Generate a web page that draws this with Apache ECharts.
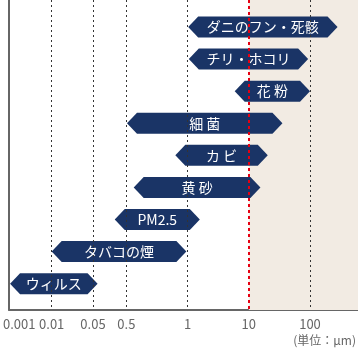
<!DOCTYPE html>
<html>
<head>
<meta charset="UTF-8">
<title>粒子の大きさ</title>
<style>
html, body { margin: 0; padding: 0; background: #fff; }
#main { width: 358px; height: 351px; }
</style>
</head>
<body>
<div id="main"></div>
<script src="https://cdn.jsdelivr.net/npm/echarts@6/dist/echarts.min.js"></script>
<script type="text/javascript">
// 粒子名（上から順）
var names = ['ダニのフン・死骸', 'チリ・ホコリ', '花 粉', '細 菌', 'カ ビ', '黄 砂', 'PM2.5', 'タバコの煙', 'ウィルス'];
// 範囲（1μm を 0 とした桁単位、目盛りの並びに合わせた位置）
var rangeStart = [0.01, 0.02, 0.77, -0.99, -0.2, -0.88, -1.19, -2.22, -2.9];
var rangeEnd = [2.45, 1.97, 2.0, 1.55, 1.31, 1.19, 0.2, -0.02, -1.47];
// 目盛り
var tickLabels = ['0.001', '0.01', '0.05', '0.5', '1', '10', '100'];
var tickPos = [-2.75, -2.22, -1.545, -1.0, 0, 1, 2];
// 点線を引く目盛り（0.001 は線なし）
var gridLinePos = [-2.22, -1.545, -1.0, 0, 2];
var limitPos = 1; // 10μm

var FONT = '"Noto Sans CJK JP", "Noto Sans", sans-serif';

var rows = names.map(function (n, i) {
    return [rangeStart[i], rangeEnd[i], i + 1, n];
});

var option = {
    animation: false,
    grid: { left: 7, right: 0, top: 0, bottom: 41 },
    xAxis: {
        type: 'value',
        min: -2.914,
        max: 2.784,
        axisLine: { show: true, onZero: false, lineStyle: { color: '#666', width: 2 } },
        axisTick: { show: false },
        splitLine: { show: false },
        axisLabel: {
            customValues: tickPos,
            color: '#666',
            fontSize: 13,
            fontFamily: FONT,
            margin: 8,
            formatter: function (v) {
                for (var i = 0; i < tickPos.length; i++) {
                    if (Math.abs(tickPos[i] - v) < 1e-6) return tickLabels[i];
                }
                return '';
            }
        }
    },
    yAxis: {
        type: 'value',
        inverse: true,
        min: 0.16,
        max: 9.82,
        axisLine: { show: true, onZero: false, lineStyle: { color: '#666', width: 2 } },
        axisTick: { show: false },
        axisLabel: { show: false },
        splitLine: { show: false }
    },
    graphic: [{
        type: 'text',
        right: 2,
        top: 334,
        style: {
            text: '(単位：μm)',
            fill: '#666',
            font: '12px ' + FONT
        }
    }],
    series: [
        {
            type: 'line',
            data: [],
            z: 1,
            silent: true,
            markArea: {
                silent: true,
                itemStyle: { color: '#f2ebe3' },
                data: [[{ xAxis: limitPos }, { xAxis: 2.784 }]]
            },
            markLine: {
                silent: true,
                symbol: 'none',
                label: { show: false },
                data: gridLinePos.map(function (p) {
                    return { xAxis: p, lineStyle: { color: '#333', width: 1, type: [2, 3] } };
                }).concat([
                    { xAxis: limitPos, lineStyle: { color: '#e60012', width: 2, type: [3, 3] } }
                ])
            }
        },
        {
            type: 'custom',
            z: 3,
            data: rows,
            encode: { x: [0, 1], y: 2 },
            renderItem: function (params, api) {
                var a = api.coord([api.value(0), api.value(2)]);
                var b = api.coord([api.value(1), api.value(2)]);
                var h = 21, p = 10;
                var y0 = a[1] - h / 2, y1 = a[1] + h / 2;
                return {
                    type: 'group',
                    children: [{
                        type: 'polygon',
                        shape: {
                            points: [
                                [a[0], a[1]], [a[0] + p, y0], [b[0] - p, y0],
                                [b[0], a[1]], [b[0] - p, y1], [a[0] + p, y1]
                            ]
                        },
                        style: { fill: '#1a3466' }
                    }, {
                        type: 'text',
                        x: (a[0] + b[0]) / 2,
                        y: a[1],
                        style: {
                            text: names[params.dataIndex],
                            fill: '#fff',
                            font: '14px ' + FONT,
                            align: 'center',
                            verticalAlign: 'middle'
                        }
                    }]
                };
            }
        }
    ]
};

var myChart = echarts.init(document.getElementById('main'));
myChart.setOption(option);
</script>
</body>
</html>
